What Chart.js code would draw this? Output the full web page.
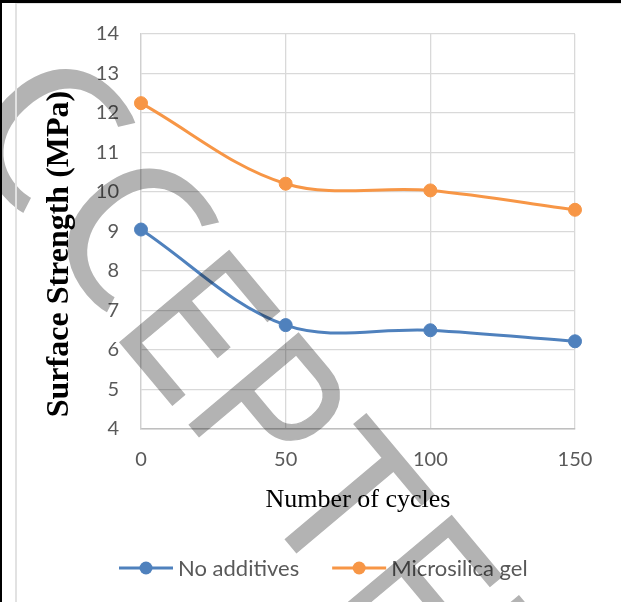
<!DOCTYPE html>
<html>
<head>
<meta charset="utf-8">
<script src="https://cdn.jsdelivr.net/npm/chart.js@4.4.1/dist/chart.umd.min.js"></script>
<style>
  html, body { margin: 0; padding: 0; background: #ffffff; }
  #wrap { position: relative; width: 621px; height: 602px; overflow: hidden; background: #ffffff; }
  #chart { position: absolute; left: 0; top: 0; }
  .rule { position: absolute; }
</style>
</head>
<body>
<div id="wrap">
  <canvas id="chart" width="621" height="602"></canvas>
  <div class="rule" style="left:0;top:0;width:621px;height:3px;background:#000;"></div>
  <div class="rule" style="left:0;top:0;width:2px;height:602px;background:#000;"></div>
  <div class="rule" style="left:15px;top:3px;width:2px;height:599px;background:#e2e2e2;"></div>
  <div class="rule" style="left:15px;top:3px;width:606px;height:1px;background:#e2e2e2;"></div>
</div>
<script>
// Freeze-thaw test results
const cycles = [0, 50, 100, 150];
const noAdditives = [9.05, 6.63, 6.5, 6.22];
const microsilicaGel = [12.25, 10.21, 10.04, 9.55];
const seriesNames = ['No additives', 'Microsilica gel'];
const xTicks = [0, 50, 100, 150];
const yTickRange = [4, 14];

const xTitle = 'Number of cycles';
const yTitle = 'Surface Strength (MPa)';
const stampText = 'ACCEPTED';

const BLUE = '#4f81bd';
const ORANGE = '#f79646';
const TICK_GRAY = '#595959';

function toPoints(values) {
  return cycles.map((c, i) => ({ x: c, y: values[i] }));
}

function lineSet(label, values, color) {
  return {
    label,
    data: toPoints(values),
    borderColor: color,
    backgroundColor: color,
    pointBackgroundColor: color,
    pointBorderColor: color,
    borderWidth: 3,
    pointRadius: 6.5,
    pointBorderWidth: 1,
    tension: 0.35,
    fill: false,
    clip: 12
  };
}

// Stamp glyph layout along a diagonal baseline:
// centre offset, horizontal/vertical squeeze, lift off the baseline, open mouth for round letters
const STAMP_SIZE = 207;
const stampLayout = [
  { at: -360, sx: 0.85, sy: 1, lift: 0 },
  { at: -200, sx: 1.05, sy: 1.04, lift: 7, mouth: true },
  { at: -70, sx: 1.05, sy: 1.04, lift: 7, mouth: true },
  { at: 31, sx: 0.73, sy: 1, lift: 0 },
  { at: 142, sx: 0.79, sy: 1, lift: 0 },
  { at: 259, sx: 0.9, sy: 1, lift: 0 },
  { at: 377, sx: 0.73, sy: 1, lift: 0 },
  { at: 490, sx: 0.8, sy: 1, lift: 0 }
];

function paintStamp(ctx, w, h) {
  const off = document.createElement('canvas');
  off.width = w;
  off.height = h;
  const o = off.getContext('2d');
  const ang = 50 * Math.PI / 180;
  const deg = Math.PI / 180;
  o.font = STAMP_SIZE + 'px "Liberation Sans", Arial, sans-serif';
  o.fillStyle = '#b3b3b3';
  o.strokeStyle = '#b3b3b3';
  o.lineJoin = 'miter';
  o.textAlign = 'center';
  o.textBaseline = 'alphabetic';
  stampText.split('').forEach((ch, i) => {
    const spot = stampLayout[i];
    o.save();
    o.translate(124.5, 347.5);
    o.rotate(ang);
    o.translate(spot.at, -spot.lift);
    if (spot.mouth) {
      // cut a wide mouth into the round letter
      const cy = -0.358 * STAMP_SIZE * spot.sy;
      o.beginPath();
      o.moveTo(0, cy);
      o.arc(0, cy, 200, 67 * deg, 297 * deg, false);
      o.closePath();
      o.clip();
    }
    o.scale(spot.sx, spot.sy);
    o.fillText(ch, 0, 0);
    if (!spot.mouth) {
      o.lineWidth = 1.5;
      o.strokeText(ch, 0, 0);
    }
    o.restore();
  });
  ctx.save();
  ctx.globalCompositeOperation = 'multiply';
  ctx.drawImage(off, 0, 0);
  ctx.restore();
}

// Axis titles, legend and stamp are painted after the chart body
const decorations = {
  id: 'decorations',
  afterDraw(chart) {
    const ctx = chart.ctx;
    const area = chart.chartArea;

    // y title
    ctx.save();
    ctx.translate(68, 254);
    ctx.rotate(-Math.PI / 2);
    ctx.font = 'bold 32px "Liberation Serif", "Times New Roman", serif';
    ctx.fillStyle = '#000';
    ctx.textAlign = 'center';
    ctx.textBaseline = 'alphabetic';
    ctx.fillText(yTitle, 0, 0);
    ctx.restore();

    // x title
    ctx.save();
    ctx.font = '26px "Liberation Serif", "Times New Roman", serif';
    ctx.fillStyle = '#000';
    ctx.textAlign = 'center';
    ctx.textBaseline = 'alphabetic';
    ctx.fillText(xTitle, (area.left + area.right) / 2, 507);
    ctx.restore();

    // legend
    ctx.save();
    ctx.font = '22px Lato, "Open Sans", sans-serif';
    ctx.textBaseline = 'middle';
    ctx.textAlign = 'left';
    let x = 119;
    const y = 568;
    chart.data.datasets.forEach((ds) => {
      ctx.strokeStyle = ds.borderColor;
      ctx.lineWidth = 3;
      ctx.beginPath();
      ctx.moveTo(x, y);
      ctx.lineTo(x + 54, y);
      ctx.stroke();
      ctx.fillStyle = ds.borderColor;
      ctx.beginPath();
      ctx.arc(x + 27, y, 6.5, 0, Math.PI * 2);
      ctx.fill();
      ctx.fillStyle = TICK_GRAY;
      ctx.fillText(ds.label, x + 59, y + 1);
      x += 59 + ctx.measureText(ds.label).width + 33;
    });
    ctx.restore();

    paintStamp(ctx, chart.width, chart.height);
  }
};

new Chart(document.getElementById('chart'), {
  type: 'line',
  data: {
    datasets: [
      lineSet(seriesNames[0], noAdditives, BLUE),
      lineSet(seriesNames[1], microsilicaGel, ORANGE)
    ]
  },
  options: {
    responsive: false,
    animation: false,
    events: [],
    layout: { padding: { top: 33, right: 46, left: 0, bottom: 0 } },
    plugins: {
      legend: { display: false },
      tooltip: { enabled: false }
    },
    scales: {
      x: {
        type: 'linear',
        min: xTicks[0],
        max: xTicks[xTicks.length - 1],
        afterBuildTicks(scale) { scale.ticks = xTicks.map(v => ({ value: v })); },
        afterFit(scale) { scale.height = 602 - 429; },
        grid: { color: '#d9d9d9', lineWidth: 1.3, drawTicks: false },
        border: { color: '#bfbfbf', width: 1.5 },
        ticks: {
          color: TICK_GRAY,
          padding: 19,
          maxRotation: 0,
          font: { family: 'Lato, "Open Sans", sans-serif', size: 20 }
        }
      },
      y: {
        min: yTickRange[0],
        max: yTickRange[1],
        afterFit(scale) { scale.width = 141; },
        grid: { color: '#d9d9d9', lineWidth: 1.3, drawTicks: false },
        border: { color: '#d0d0d0', width: 1.3 },
        ticks: {
          stepSize: 1,
          color: TICK_GRAY,
          padding: 22,
          font: { family: 'Lato, "Open Sans", sans-serif', size: 20 }
        }
      }
    }
  },
  plugins: [decorations]
});
</script>
</body>
</html>
